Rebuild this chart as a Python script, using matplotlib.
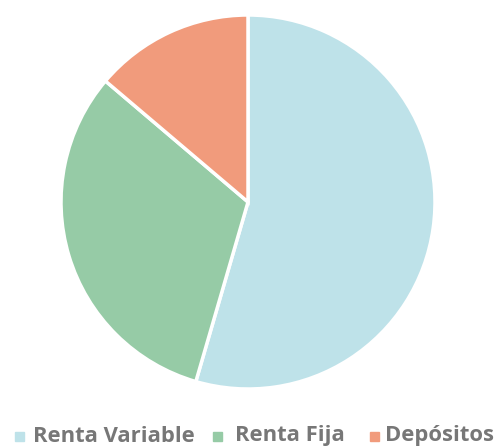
import matplotlib
matplotlib.use("Agg")
import matplotlib.pyplot as plt
from matplotlib.patches import Rectangle

categories = ["Renta Variable", "Renta Fija", "Depósitos"]
values = [54.5, 31.7, 13.8]
colors = ["#BEE2E9", "#96CBA6", "#F19B7C"]

W, H = 495, 447
fig = plt.figure(figsize=(W / 100, H / 100), dpi=100)
cx, cy, r = 248, 202, 187
ax = fig.add_axes([(cx - r) / W, (H - cy - r) / H, 2 * r / W, 2 * r / H])
wedges, _ = ax.pie(values, colors=colors, startangle=90, counterclock=False, radius=1,
                   wedgeprops=dict(edgecolor="white", linewidth=2.5))
for w in wedges:
    w.set_clip_on(False)
ax.set_xlim(-1.0, 1.0)
ax.set_ylim(-1.0, 1.0)
ax.set_aspect("equal")
ax.axis("off")

# legend
marker_x = [15, 213, 370]
text_x = [33, 235, 385]
ly = 436
for mx, tx, lab, c in zip(marker_x, text_x, categories, colors):
    fig.patches.append(Rectangle((mx / W, (H - ly - 4.5) / H), 9 / W, 9 / H,
                                 transform=fig.transFigure, color=c))
    fig.text(tx / W, (H - ly) / H, lab, fontsize=15.8, fontweight="bold",
             family="Open Sans", color="#777777", va="center", ha="left")

fig.savefig("out.png", dpi=100)
